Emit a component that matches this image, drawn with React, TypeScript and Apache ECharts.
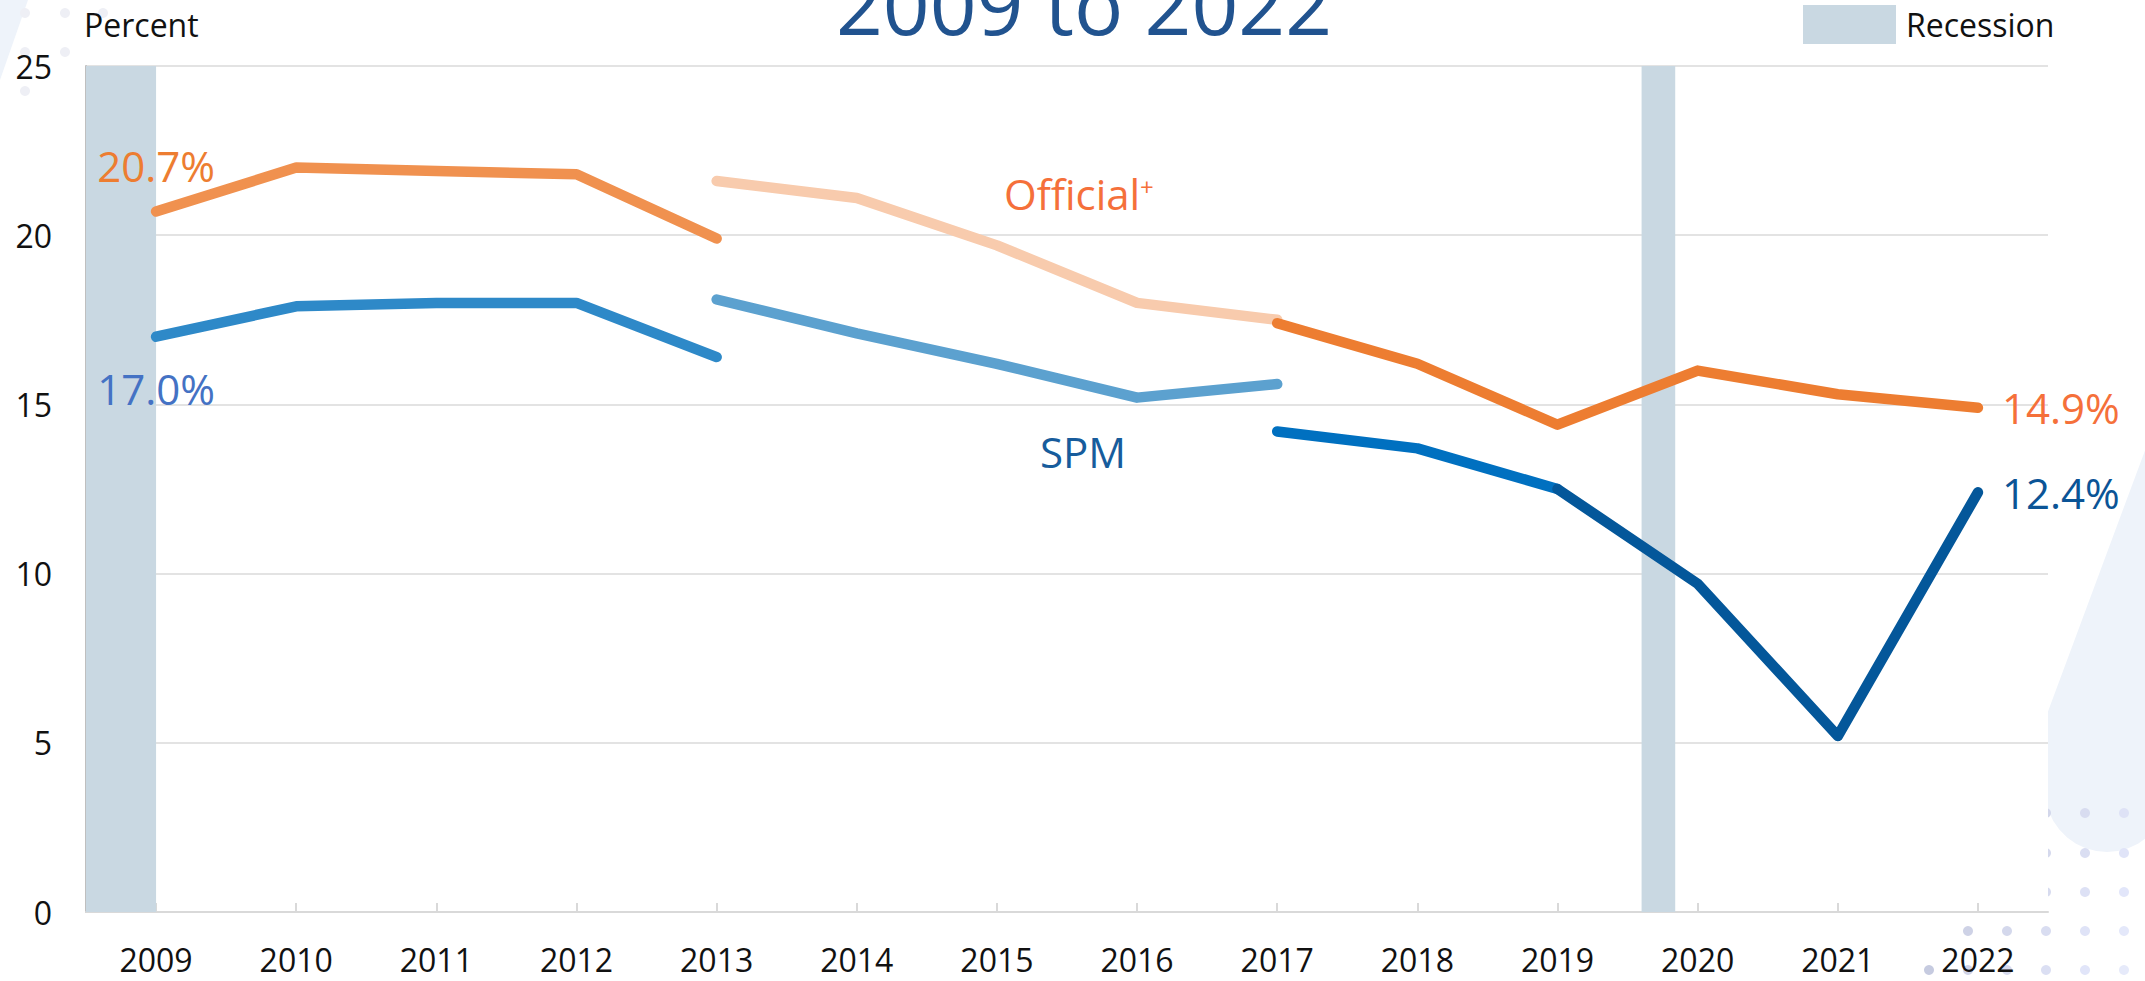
import React, { useEffect, useRef } from 'react';
import * as echarts from 'echarts';

const FONT = '"Open Sans", "Noto Sans", sans-serif';

const years = ['2009', '2010', '2011', '2012', '2013', '2014', '2015', '2016', '2017', '2018', '2019', '2020', '2021', '2022'];

// Official poverty rate (percent), split by method change
const officialOld = [20.7, 22.0, 21.9, 21.8, 19.9, null, null, null, null, null, null, null, null, null];
const officialMid = [null, null, null, null, 21.6, 21.1, 19.7, 18.0, 17.5, null, null, null, null, null];
const officialNew = [null, null, null, null, null, null, null, null, 17.4, 16.2, 14.4, 16.0, 15.3, 14.9];

// SPM poverty rate (percent)
const spmOld = [17.0, 17.9, 18.0, 18.0, 16.4, null, null, null, null, null, null, null, null, null];
const spmMid = [null, null, null, null, 18.1, 17.1, 16.2, 15.2, 15.6, null, null, null, null, null];
const spmNew = [null, null, null, null, null, null, null, null, 14.2, 13.7, 12.5, null, null, null];
const spmLatest = [null, null, null, null, null, null, null, null, null, null, 12.5, 9.7, 5.2, 12.4];

// Recession shading, in year units
const recessions = [[2008.5, 2009.0], [2019.6, 2019.84]];

const yMin = 0;
const yMax = 25;
const yInterval = 5;

const fmt = (p: any) => {
  const v = Array.isArray(p.value) ? p.value[1] : p.value;
  return Number(v).toFixed(1) + '%';
};

function lineSeries(name: string, data: any[], color: string, z: number, extra: any = {}) {
  return {
    type: 'line',
    name,
    data,
    xAxisIndex: 0,
    yAxisIndex: 0,
    symbol: 'circle',
    symbolSize: 2,
    showSymbol: true,
    showAllSymbol: true,
    itemStyle: { color },
    lineStyle: { color, width: 10.5, cap: 'round', join: 'round' },
    connectNulls: false,
    silent: true,
    z,
    ...extra,
  };
}

export default function App() {
  const ref = useRef<HTMLDivElement>(null);

  useEffect(() => {
    if (!ref.current) return;
    const chart = echarts.init(ref.current, undefined, { renderer: 'svg' });

    const dots: any[] = [];
    const colX = [1968, 2007, 2046, 2085, 2124];
    const rowY = [813, 853, 892, 931, 970];
    rowY.forEach((y, ri) => {
      colX.forEach((x, ci) => {
        const t = Math.min(1, ci * 0.13 + ri * 0.05);
        const c = Math.round(204 + t * 42);
        dots.push({
          type: 'circle',
          z: -10,
          shape: { cx: x, cy: y, r: 5 },
          style: { fill: `rgb(${c - 4},${c},${Math.min(250, c + 20)})` },
        });
      });
    });
    dots.push({ type: 'circle', z: -10, shape: { cx: 1929, cy: 970, r: 5 }, style: { fill: '#C6CBE0' } });
    [[25, 13], [65, 13], [103, 13], [25, 52], [65, 52], [25, 91]].forEach(([x, y]) => {
      dots.push({ type: 'circle', z: -10, shape: { cx: x, cy: y, r: 5 }, style: { fill: '#EEEFF5' } });
    });

    const arc: number[][] = [];
    for (let a = 180; a >= 0; a -= 10) {
      const rad = (a * Math.PI) / 180;
      arc.push([2107 + 62 * Math.cos(rad), 790 + 62 * Math.sin(rad)]);
    }

    const option: any = {
      animation: false,
      backgroundColor: '#ffffff',
      textStyle: { fontFamily: FONT },
      grid: {
        left: 86,
        right: 97,
        top: 66,
        bottom: 69,
        containLabel: false,
        show: true,
        backgroundColor: '#ffffff',
        borderWidth: 0,
      },
      legend: {
        data: ['Recession'],
        left: 1803,
        top: 5,
        padding: 0,
        icon: 'rect',
        itemWidth: 93,
        itemHeight: 39,
        selectedMode: false,
        textStyle: { fontSize: 32, color: '#111111', fontFamily: FONT, padding: [0, 0, 0, 5] },
      },
      xAxis: [
        {
          type: 'category',
          data: years,
          boundaryGap: true,
          axisLine: { show: true, lineStyle: { color: '#D9D9D9', width: 2 } },
          axisTick: { show: true, alignWithLabel: true, inside: true, length: 9, lineStyle: { color: '#D9D9D9', width: 2 } },
          axisLabel: { fontSize: 32, lineHeight: 28, color: '#111111', margin: 33, fontFamily: FONT },
          splitLine: { show: false },
        },
        {
          type: 'value',
          min: 2008.5,
          max: 2022.5,
          show: false,
          splitLine: { show: false },
        },
      ],
      yAxis: {
        type: 'value',
        min: yMin,
        max: yMax,
        interval: yInterval,
        axisLine: { show: true, lineStyle: { color: '#BFBFBF', width: 2 } },
        axisTick: { show: false },
        axisLabel: { fontSize: 32, color: '#111111', margin: 34, fontFamily: FONT },
        splitLine: { show: true, lineStyle: { color: '#E3E3E3', width: 2 } },
      },
      graphic: [
        { type: 'polygon', z: -10, shape: { points: [[0, 0], [28, 0], [0, 80]] }, style: { fill: '#EEF3FA' } },
        {
          type: 'polygon',
          z: -11,
          shape: { points: [[2160, 410], [2040, 733], ...arc, [2160, 790]] },
          style: { fill: '#EEF3FA' },
        },
        ...dots,
        {
          type: 'text',
          x: 1084,
          y: 3,
          style: {
            text: '2009 to 2022',
            fontSize: 82,
            fontFamily: FONT,
            fill: '#21538F',
            align: 'center',
            verticalAlign: 'middle',
          },
        },
        {
          type: 'text',
          x: 84,
          y: 24,
          style: { text: 'Percent', fontSize: 32, fontFamily: FONT, fill: '#111111', align: 'left', verticalAlign: 'middle' },
        },
        {
          type: 'text',
          x: 1004,
          y: 193,
          style: { text: 'Official', fontSize: 42, fontFamily: FONT, fill: '#F5703A', align: 'left', verticalAlign: 'middle' },
        },
        {
          type: 'text',
          x: 1140,
          y: 186,
          style: { text: '+', fontSize: 24, fontFamily: FONT, fill: '#F5703A', align: 'left', verticalAlign: 'middle' },
        },
        {
          type: 'text',
          x: 1083,
          y: 451,
          style: { text: 'SPM', fontSize: 42, fontFamily: FONT, fill: '#175C9C', align: 'center', verticalAlign: 'middle' },
        },
      ],
      series: [
        {
          type: 'custom',
          name: 'Recession',
          xAxisIndex: 1,
          yAxisIndex: 0,
          silent: true,
          z: 1,
          itemStyle: { color: '#C9D8E2' },
          encode: { x: [0, 1] },
          data: recessions,
          renderItem: (params: any, api: any) => {
            const s = api.coord([api.value(0), yMax]);
            const e = api.coord([api.value(1), yMin]);
            return {
              type: 'rect',
              shape: { x: s[0], y: s[1], width: e[0] - s[0], height: e[1] - s[1] },
              style: { fill: '#C9D8E2' },
            };
          },
        },
        lineSeries(
          'Official (2009-2013)',
          officialOld.map((v, i) =>
            i === 0
              ? { value: v, label: { show: true, position: 'top', distance: 24, formatter: fmt, fontSize: 42, color: '#ED7D31', fontFamily: FONT } }
              : v
          ),
          '#F0914F',
          3
        ),
        lineSeries('Official (2013-2017)', officialMid, '#F8CBAD', 3),
        lineSeries('Official (2017-2022)', officialNew, '#ED7D31', 4, {
          endLabel: { show: true, formatter: fmt, fontSize: 42, color: '#F5703A', distance: 24, fontFamily: FONT },
        }),
        lineSeries(
          'SPM (2009-2013)',
          spmOld.map((v, i) =>
            i === 0
              ? { value: v, label: { show: true, position: 'bottom', distance: 30, formatter: fmt, fontSize: 42, color: '#4472C4', fontFamily: FONT } }
              : v
          ),
          '#2E89C8',
          3
        ),
        lineSeries('SPM (2013-2017)', spmMid, '#5CA1CF', 3),
        lineSeries('SPM (2017-2019)', spmNew, '#0070C0', 4),
        lineSeries('SPM (2019-2022)', spmLatest, '#04579A', 5, {
          endLabel: { show: true, formatter: fmt, fontSize: 42, color: '#0B5496', distance: 24, fontFamily: FONT },
        }),
      ],
    };

    chart.setOption(option);
    return () => chart.dispose();
  }, []);

  return (
    <div
      ref={ref}
      style={{ position: 'fixed', left: 0, top: 0, width: '2145px', height: '981px', background: '#ffffff' }}
    />
  );
}
